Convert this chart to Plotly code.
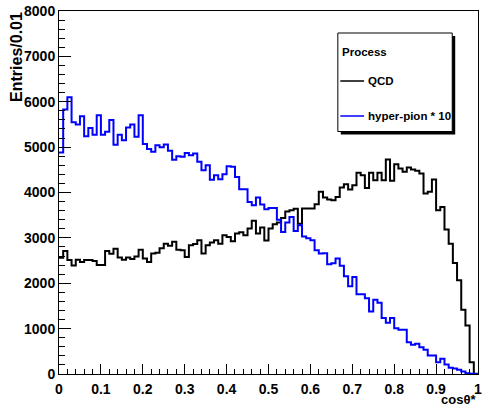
import numpy as np
import plotly.graph_objects as go

# ---- data ----
bin_edges_lo = 0.0
bin_edges_hi = 1.0
n_bins = 100

qcd = [2560, 2710, 2510, 2390, 2520, 2470, 2510, 2510, 2490, 2400,
       2400, 2710, 2650, 2760, 2570, 2520, 2570, 2535, 2590, 2740,
       2545, 2470, 2655, 2670, 2770, 2870, 2825, 2915, 2740, 2726,
       2579, 2836, 2865, 2947, 2653, 2836, 2900, 2947, 2873, 3057,
       3020, 2925, 3094, 3123, 3057, 3204, 3377, 3094, 3230, 2940,
       3204, 3300, 3340, 3436, 3580, 3610, 3640, 3310, 3650, 3650,
       3650, 3740, 4014, 3890, 3845, 3830, 3903, 4110, 4183, 4066,
       4161, 4433, 4382, 4100, 4433, 4272, 4433, 4272, 4728, 4257,
       4625, 4530, 4455, 4552, 4508, 4477, 4419, 3978, 4014, 4287,
       3609, 3682, 3183, 2873, 2446, 2064, 1417, 1071, 261, 5]

hyperpion_x10 = [4880, 5830, 6100, 5550, 5500, 5680, 5240, 5420, 5270, 5700,
                 5270, 5340, 5600, 5050, 5270, 5150, 5430, 5500, 5230, 5700,
                 5070, 4960, 4900, 5040, 5000, 5060, 4920, 4720, 4800, 4790,
                 4870, 4820, 4860, 4680, 4490, 4600, 4280, 4380, 4290, 4400,
                 4580, 4570, 4340, 4070, 4070, 3790, 3720, 3890, 3735, 3630,
                 3660, 3660, 3400, 3130, 3340, 3460, 3150, 3280, 3030, 2990,
                 2947, 2730, 2653, 2660, 2420, 2440, 2543, 2385, 2152, 1932,
                 2137, 1760, 1760, 1670, 1380, 1638, 1570, 1235, 1130, 1232,
                 1011, 975, 975, 702, 644, 666, 592, 534, 408, 408,
                 261, 335, 210, 136, 121, 92, 55, 18, 5, 0]

x_tick_vals = [0, 0.1, 0.2, 0.3, 0.4, 0.5, 0.6, 0.7, 0.8, 0.9, 1.0]
x_tick_text = ["0", "0.1", "0.2", "0.3", "0.4", "0.5", "0.6", "0.7", "0.8", "0.9", "1"]
y_tick_vals = [0, 1000, 2000, 3000, 4000, 5000, 6000, 7000, 8000]
y_tick_text = ["0", "1000", "2000", "3000", "4000", "5000", "6000", "7000", "8000"]

series_names = ["QCD", "hyper-pion * 10"]
series_colors = ["#000000", "#0000ff"]
legend_title = "Process"
x_title = "cos\u03b8*"
y_title = "Entries/0.01"

# ---- figure (window pixels; body margin removed in the page) ----
W, H = 483, 408
ML, MR, MT, MB = 59, 1, 11, 34
PW, PH = W - ML - MR, H - MT - MB


def px2x(px):
    return (px - ML) / PW


def px2y(py):
    return (H - MB - py) / PH


edges = np.linspace(bin_edges_lo, bin_edges_hi, n_bins + 1)
font_family = "Liberation Sans, Arial, Helvetica, sans-serif"

fig = go.Figure()
for vals, name, col in zip([qcd, hyperpion_x10], series_names, series_colors):
    yv = list(vals) + [vals[-1]]
    fig.add_trace(go.Scatter(x=edges, y=yv, mode="lines", name=name,
                             line=dict(color=col, width=2, shape="hv"),
                             showlegend=False, hoverinfo="skip"))

axis_common = dict(showline=True, linecolor="black", linewidth=1, mirror=True,
                   ticks="inside", tickcolor="black", tickwidth=1,
                   showgrid=False, zeroline=False, ticklabeloverflow="allow",
                   tickfont=dict(family=font_family, size=14, color="black", weight=700))

fig.update_xaxes(range=[0, 1], tickmode="array", tickvals=x_tick_vals, ticktext=x_tick_text,
                 ticklen=10, ticklabelstandoff=2,
                 minor=dict(dtick=0.02, ticks="inside", ticklen=5, tickcolor="black", showgrid=False),
                 **axis_common)
fig.update_yaxes(range=[0, 8000], tickmode="array", tickvals=y_tick_vals, ticktext=y_tick_text,
                 ticklen=12,
                 minor=dict(dtick=200, ticks="inside", ticklen=6, tickcolor="black", showgrid=False),
                 **axis_common)

shapes = []
# legend shadow and box
shapes.append(dict(type="rect", xref="paper", yref="paper",
                   x0=px2x(343.5), x1=px2x(459), y0=px2y(134.5), y1=px2y(36),
                   fillcolor="black", line=dict(width=0), layer="above"))
shapes.append(dict(type="rect", xref="paper", yref="paper",
                   x0=px2x(340.5), x1=px2x(456), y0=px2y(131.5), y1=px2y(33),
                   fillcolor="white", line=dict(color="black", width=1), layer="above"))
legend_rows_y = [81, 116]
for ry, col in zip(legend_rows_y, series_colors):
    shapes.append(dict(type="line", xref="paper", yref="paper",
                       x0=px2x(343), x1=px2x(367), y0=px2y(ry), y1=px2y(ry),
                       line=dict(color=col, width=1.5), layer="above"))

annotations = []
annotations.append(dict(text=legend_title, xref="paper", yref="paper",
                        x=px2x(342.5), y=px2y(52), xanchor="left", yanchor="middle",
                        showarrow=False,
                        font=dict(family=font_family, size=11.5, color="black", weight=700)))
for ry, name in zip(legend_rows_y, series_names):
    annotations.append(dict(text=name, xref="paper", yref="paper",
                            x=px2x(369), y=px2y(ry), xanchor="left", yanchor="middle",
                            showarrow=False,
                            font=dict(family=font_family, size=11.5, color="black", weight=700)))
annotations.append(dict(text=y_title, xref="paper", yref="paper",
                        x=px2x(15.5), y=px2y(10), xanchor="center", yanchor="top",
                        textangle=-90, showarrow=False,
                        font=dict(family=font_family, size=16, color="black", weight=700)))
annotations.append(dict(text=x_title, xref="paper", yref="paper",
                        x=px2x(482), y=px2y(409), xanchor="right", yanchor="bottom",
                        showarrow=False,
                        font=dict(family=font_family, size=13, color="black", weight=700)))

fig.update_layout(width=W, height=H, autosize=False,
                  margin=dict(l=ML, r=MR, t=MT, b=MB, pad=0),
                  paper_bgcolor="white", plot_bgcolor="white",
                  showlegend=False, shapes=shapes, annotations=annotations)

page_fix = ("document.documentElement.style.margin='0';"
            "document.documentElement.style.overflow='hidden';"
            "document.body.style.margin='0';"
            "document.body.style.padding='0';"
            "document.body.style.overflow='hidden';")
fig.write_html("out.html", post_script=page_fix,
               config={"displayModeBar": False, "staticPlot": True})
